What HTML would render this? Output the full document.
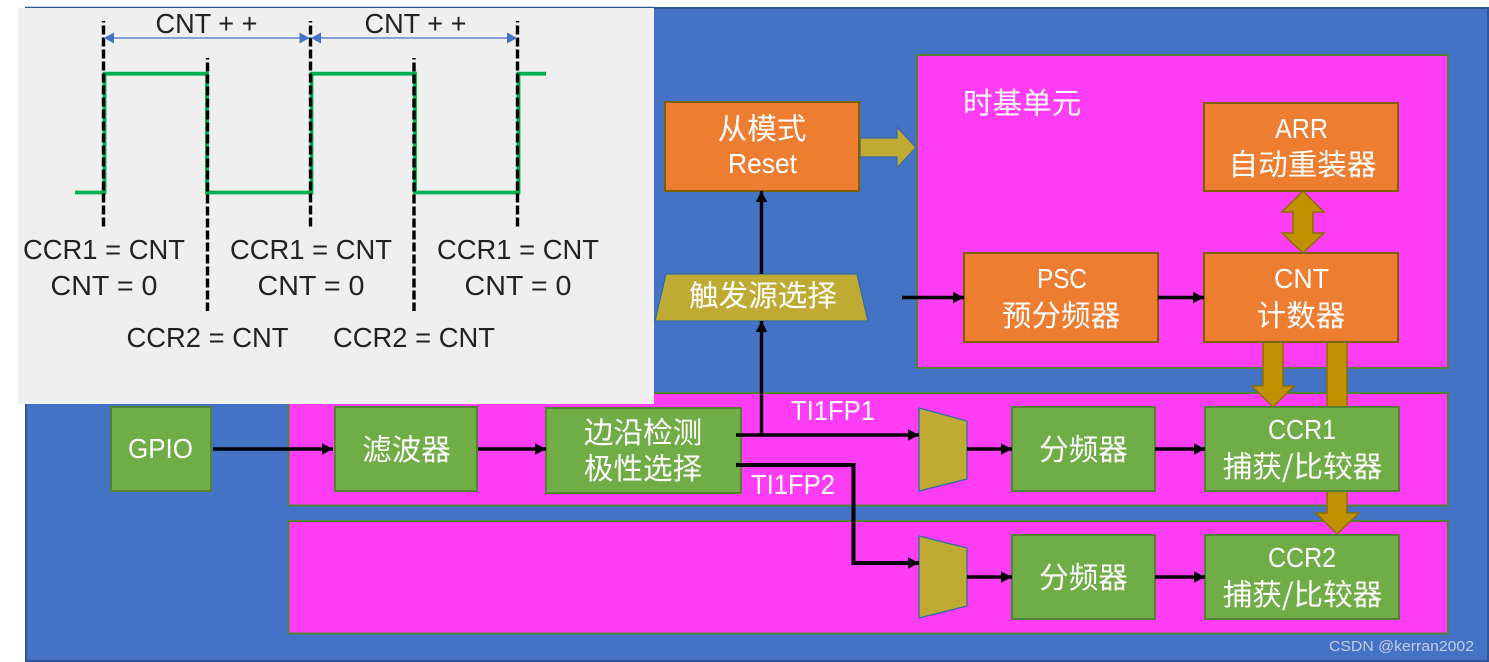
<!DOCTYPE html>
<html><head><meta charset="utf-8">
<style>
html,body{margin:0;padding:0;background:#fff;width:1489px;height:662px;overflow:hidden}
svg{display:block}
text{font-family:"Liberation Sans","Noto Sans CJK SC",sans-serif}
.w{fill:#fff;text-anchor:middle}
.cjk{font-family:"Noto Sans CJK SC","Liberation Sans",sans-serif;font-size:29.6px}
.lat{font-size:28px}
.k{fill:#222;font-size:28px;text-anchor:middle}
.org{fill:#ED7D31;stroke:#7F6000;stroke-width:2}
.grn{fill:#70AD47;stroke:#548235;stroke-width:2}
.pnk{fill:#FF3DF5;stroke:#548235;stroke-width:2}
.oli{fill:#BFAB33;stroke:#2F6DA8;stroke-width:1.3}
.gld{fill:#BF9000;stroke:#8C6D00;stroke-width:1.5}
.bl{fill:none;stroke:#000;stroke-width:3.4}
.dash{fill:none;stroke:#000;stroke-width:3.4;stroke-dasharray:9 3;stroke-dashoffset:7.5}
.gr{fill:none;stroke:#00B050;stroke-width:3.8}
</style></head>
<body>
<svg width="1489" height="662" viewBox="0 0 1489 662" xmlns="http://www.w3.org/2000/svg">
<defs>
<marker id="a" markerUnits="userSpaceOnUse" markerWidth="12" markerHeight="12" refX="11" refY="5.750" orient="auto"><path d="M0 0L11 5.750L0 11.500Z" fill="#000"/></marker>
<marker id="b" markerUnits="userSpaceOnUse" markerWidth="11" markerHeight="12" refX="10" refY="5.500" orient="auto"><path d="M0 0L10 5.500L0 11Z" fill="#4472C4"/></marker>
<marker id="bs" markerUnits="userSpaceOnUse" markerWidth="11" markerHeight="12" refX="0" refY="5.500" orient="auto"><path d="M10 0L0 5.500L10 11Z" fill="#4472C4"/></marker>
</defs>

<rect x="26" y="8" width="1462" height="653" fill="#4472C4" stroke="#2F5597" stroke-width="2"/>

<rect class="pnk" x="917" y="55" width="531" height="313"/>
<rect class="pnk" x="288.500" y="393" width="1159.500" height="112.500"/>
<rect class="pnk" x="288.500" y="521" width="1159.500" height="112.500"/>

<!-- gold arrows -->
<path class="gld" d="M1263 342H1283V386H1294L1273 407L1252 386H1263Z"/>
<path class="gld" d="M1327 342H1347V513H1359L1337 534L1316 513H1327Z"/>
<path class="gld" d="M1303 191L1324 212H1313V233H1324L1303 253L1282 233H1293V212H1282Z"/>
<path d="M860 138H897V127L916 147.500L897 168V157H860Z" fill="#BFAB33" stroke="#3E6AA8" stroke-width="1.300"/>

<!-- boxes -->
<rect class="org" x="665" y="102" width="194" height="89"/>
<rect class="org" x="1204" y="103" width="194" height="88"/>
<rect class="org" x="964" y="253" width="194" height="89"/>
<rect class="org" x="1204" y="253" width="194" height="89"/>
<path class="oli" d="M666 274H857L868 321H655Z"/>
<rect class="grn" x="111" y="407" width="100" height="84"/>
<rect class="grn" x="335" y="407" width="142" height="84"/>
<rect class="grn" x="546" y="408" width="195" height="85"/>
<rect class="grn" x="1012" y="407" width="143" height="84"/>
<rect class="grn" x="1012" y="535" width="143" height="84"/>
<rect class="grn" x="1205" y="407" width="194" height="84"/>
<rect class="grn" x="1205" y="535" width="194" height="84"/>
<path class="oli" d="M919 408L967 421V479L919 491Z"/>
<path class="oli" d="M919 536L967 548V606L919 618Z"/>

<!-- black connectors -->
<path class="bl" d="M761.500 274V191" marker-end="url(#a)"/>
<path class="bl" d="M761.500 435V321" marker-end="url(#a)"/>
<path class="bl" d="M902 297.500H964" marker-end="url(#a)"/>
<path class="bl" d="M1158 297.500H1204" marker-end="url(#a)"/>
<path class="bl" d="M213 449H333" marker-end="url(#a)"/>
<path class="bl" d="M478 449H546" marker-end="url(#a)"/>
<path class="bl" d="M736 435H919" marker-end="url(#a)"/>
<path class="bl" d="M736 465H853.500V563H919" marker-end="url(#a)" style="stroke-width:4"/>
<path class="bl" d="M967 449H1012" marker-end="url(#a)"/>
<path class="bl" d="M967 577H1012" marker-end="url(#a)"/>
<path class="bl" d="M1155 449H1205" marker-end="url(#a)"/>
<path class="bl" d="M1155 577H1205" marker-end="url(#a)"/>

<!-- box labels -->
<text class="w cjk" x="762" y="139">从模式</text>
<text class="w lat" x="762.500" y="173" textLength="69" lengthAdjust="spacingAndGlyphs">Reset</text>
<text class="cjk" fill="#fff" x="963" y="113.500">时基单元</text>
<text class="w lat" x="1301.500" y="138" textLength="53" lengthAdjust="spacingAndGlyphs">ARR</text>
<text class="w cjk" x="1302.500" y="175">自动重装器</text>
<text class="w lat" x="1301.500" y="288" textLength="55" lengthAdjust="spacingAndGlyphs">CNT</text>
<text class="w cjk" x="1301" y="326">计数器</text>
<text class="w lat" x="1062" y="288" textLength="50" lengthAdjust="spacingAndGlyphs">PSC</text>
<text class="w cjk" x="1061" y="326">预分频器</text>
<text class="w cjk" x="763" y="306">触发源选择</text>
<text class="w lat" x="160.500" y="458" textLength="65" lengthAdjust="spacingAndGlyphs">GPIO</text>
<text class="w cjk" x="406.500" y="460">滤波器</text>
<text class="w cjk" x="643" y="443">边沿检测</text>
<text class="w cjk" x="643" y="479">极性选择</text>
<text class="w cjk" x="1083.500" y="460">分频器</text>
<text class="w cjk" x="1083.500" y="588">分频器</text>
<text class="w lat" x="1302" y="439" textLength="68" lengthAdjust="spacingAndGlyphs">CCR1</text>
<text class="w cjk" x="1302.500" y="477">捕获/比较器</text>
<text class="w lat" x="1302" y="567" textLength="68" lengthAdjust="spacingAndGlyphs">CCR2</text>
<text class="w cjk" x="1302.500" y="605">捕获/比较器</text>
<text class="w lat" x="833" y="420" textLength="84" lengthAdjust="spacingAndGlyphs">TI1FP1</text>
<text class="w lat" x="793" y="494" textLength="84" lengthAdjust="spacingAndGlyphs">TI1FP2</text>
<text x="1329" y="651" fill="#c3cce4" font-size="15" textLength="145" lengthAdjust="spacingAndGlyphs">CSDN @kerran2002</text>

<!-- timing panel -->
<path d="M25 7.500H654" stroke="#2F5597" stroke-width="1.500"/>
<rect x="18" y="8" width="636" height="396" fill="#EFEFEF"/>
<path class="gr" d="M75 192.500H104.500V73.700H207V192.500H311.500V73.700H415V192.500H518.500V73.700H546"/>
<path class="dash" d="M103.500 21V227"/>
<path class="dash" d="M310.500 21V227"/>
<path class="dash" d="M517.500 21V227"/>
<path class="dash" d="M207.500 58V311"/>
<path class="dash" d="M414 58V311"/>
<path d="M104 38H309.500" stroke="#4472C4" stroke-width="1.300" marker-start="url(#bs)" marker-end="url(#b)"/>
<path d="M311 38H517" stroke="#4472C4" stroke-width="1.300" marker-start="url(#bs)" marker-end="url(#b)"/>
<text class="k" x="206.500" y="33" textLength="102" lengthAdjust="spacingAndGlyphs">CNT + +</text>
<text class="k" x="415.500" y="33" textLength="102" lengthAdjust="spacingAndGlyphs">CNT + +</text>
<text class="k" x="104" y="259" textLength="162" lengthAdjust="spacingAndGlyphs">CCR1 = CNT</text>
<text class="k" x="311" y="259" textLength="162" lengthAdjust="spacingAndGlyphs">CCR1 = CNT</text>
<text class="k" x="518" y="259" textLength="162" lengthAdjust="spacingAndGlyphs">CCR1 = CNT</text>
<text class="k" x="104" y="295" textLength="107" lengthAdjust="spacingAndGlyphs">CNT = 0</text>
<text class="k" x="311" y="295" textLength="107" lengthAdjust="spacingAndGlyphs">CNT = 0</text>
<text class="k" x="518" y="295" textLength="107" lengthAdjust="spacingAndGlyphs">CNT = 0</text>
<text class="k" x="207.500" y="347" textLength="162" lengthAdjust="spacingAndGlyphs">CCR2 = CNT</text>
<text class="k" x="414" y="347" textLength="162" lengthAdjust="spacingAndGlyphs">CCR2 = CNT</text>
</svg>
</body></html>
